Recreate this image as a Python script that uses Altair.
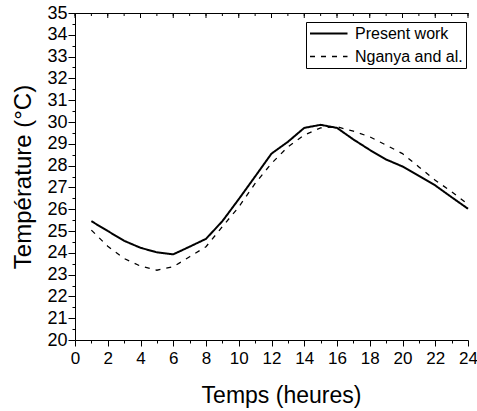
import altair as alt
import pandas as pd

hours = list(range(1, 25))
present_work = [25.45, 25.0, 24.55, 24.23, 24.02, 23.93, 24.28, 24.64, 25.45, 26.46,
                27.5, 28.55, 29.09, 29.73, 29.87, 29.73, 29.2, 28.72, 28.28, 27.96,
                27.53, 27.09, 26.55, 26.02]
nganya = [25.04, 24.3, 23.74, 23.39, 23.2, 23.36, 23.82, 24.28, 25.2, 26.1,
          27.18, 28.1, 28.86, 29.4, 29.73, 29.78, 29.58, 29.32, 28.94, 28.55,
          27.94, 27.33, 26.8, 26.23]
series_names = ["Present work", "Nganya and al."]
x_ticks = list(range(0, 25))
y_ticks = [20 + 0.5 * i for i in range(31)]

rows = []
for h, v in zip(hours, present_work):
    rows.append({"t": h, "T": v, "series": series_names[0]})
for h, v in zip(hours, nganya):
    rows.append({"t": h, "T": v, "series": series_names[1]})
df = pd.DataFrame(rows)

FONT = "Liberation Sans"

xscale = alt.Scale(domain=[0, 24], nice=False, zero=False)
yscale = alt.Scale(domain=[20, 35], nice=False, zero=False)

lines = alt.Chart(df).mark_line(color="black").encode(
    x=alt.X("t:Q", scale=xscale,
            axis=alt.Axis(values=x_ticks, title="Temps (heures)",
                          tickSize={"condition": {"test": "datum.value % 2 === 0", "value": 6}, "value": 3},
                          labelExpr="datum.value % 2 === 0 ? format(datum.value, 'd') : ''",
                          labelOverlap=False, labelFlush=False,
                          labelFontSize=17, labelPadding=4,
                          titleFontSize=23, titleFontWeight="normal", titlePadding=18,
                          titleX=206, titleAlign="center",
                          grid=False, domainColor="black", tickColor="black",
                          labelColor="black", titleColor="black")),
    y=alt.Y("T:Q", scale=yscale,
            axis=alt.Axis(values=y_ticks, title="Température (°C)",
                          tickSize={"condition": {"test": "datum.value % 1 === 0", "value": 7}, "value": 3},
                          labelExpr="datum.value % 1 === 0 ? format(datum.value, 'd') : ''",
                          labelOverlap=False, labelFlush=False,
                          labelFontSize=18, labelPadding=1,
                          titleFontSize=24, titleFontWeight="normal", titlePadding=11,
                          grid=False, domainColor="black", tickColor="black",
                          labelColor="black", titleColor="black")),
    strokeDash=alt.StrokeDash("series:N", sort=series_names,
                              scale=alt.Scale(domain=series_names, range=[[1, 0], [5, 6]]),
                              legend=alt.Legend(title=None, orient="none", legendX=231, legendY=9,
                                                strokeColor="black", fillColor="white",
                                                padding=3, symbolType="M-1,0H4",
                                                symbolSize=225, symbolStrokeColor="black",
                                                labelFontSize=16, labelColor="black",
                                                rowPadding=6, labelOffset=29,
                                                cornerRadius=0)),
    strokeWidth=alt.StrokeWidth("series:N", sort=series_names,
                                scale=alt.Scale(domain=series_names, range=[2, 1.3]),
                                legend=None),
)

tick_df = pd.DataFrame({"x": x_ticks, "major": [v % 2 == 0 for v in x_ticks]})

top_axis = alt.Chart(tick_df).mark_rule(color="black", strokeWidth=1).encode(
    x=alt.X("x:Q", scale=xscale,
            axis=alt.Axis(orient="top", ticks=False, labels=False, title=None,
                          domain=True, domainColor="black", grid=False)),
    y=alt.value(0),
    y2=alt.value(3),
)
top_major = alt.Chart(tick_df[tick_df["major"]]).mark_rule(color="black", strokeWidth=1).encode(
    x=alt.X("x:Q", scale=xscale, axis=None),
    y=alt.value(0),
    y2=alt.value(5),
)

chart = alt.layer(lines, top_axis, top_major).resolve_axis(x="independent").properties(
    width=393, height=327,
    padding={"left": 75, "top": 13, "right": 9, "bottom": 71},
    autosize=alt.AutoSizeParams(type="none"),
).configure(font=FONT).configure_view(stroke=None)

chart.save("out.html", embed_options={"renderer": "svg", "actions": False})
